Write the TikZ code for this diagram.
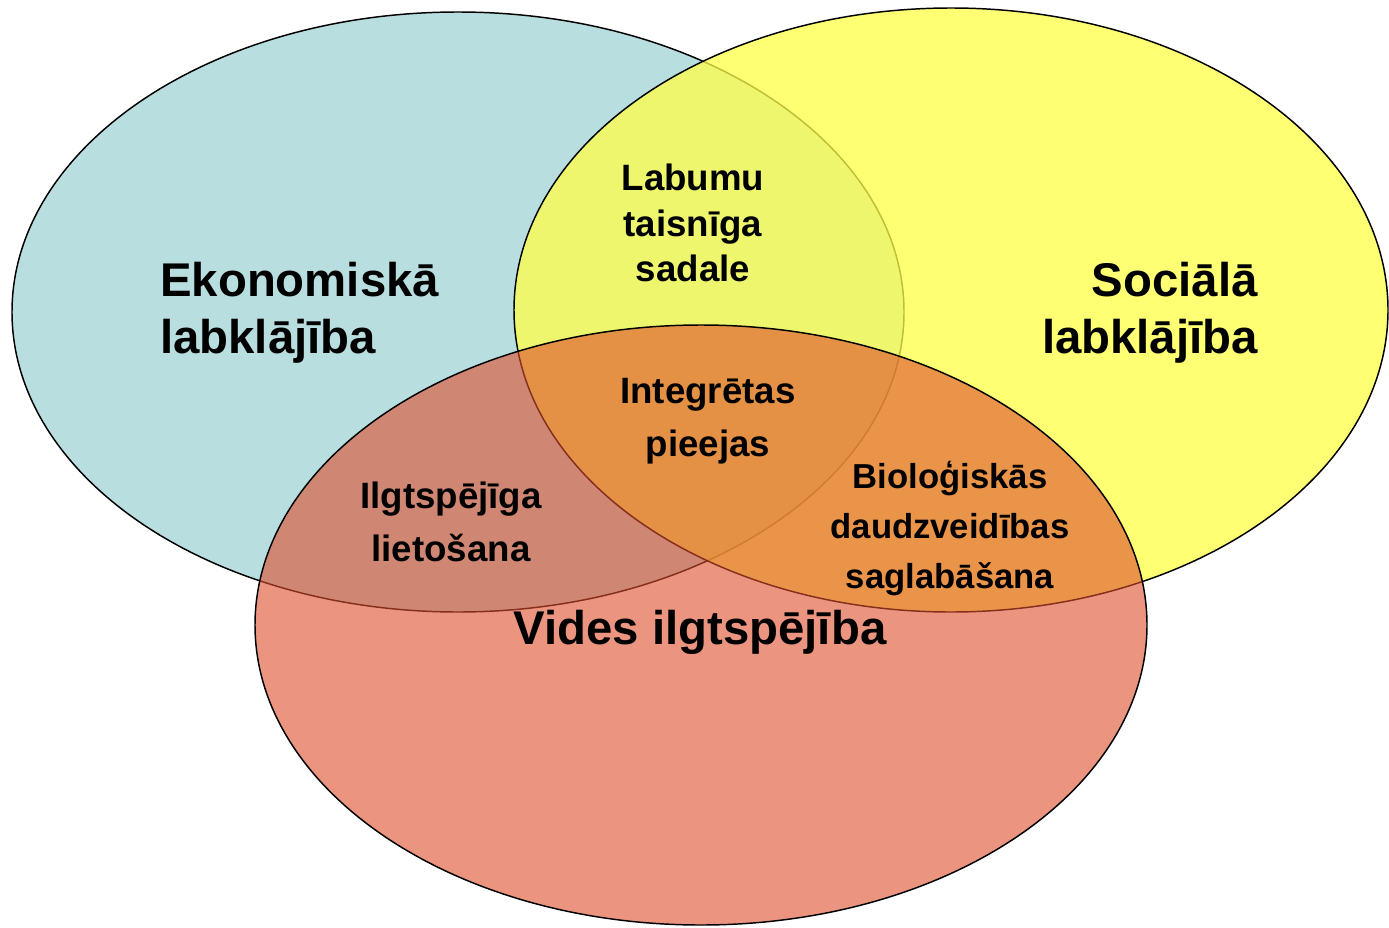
\documentclass[tikz,border=0pt]{standalone}
\usepackage{fontspec}
\setmainfont{Liberation Sans}
\usepackage{xcolor}
\usepackage{tikz}
\usetikzlibrary{positioning}

\definecolor{ekoblue}{RGB}{185,222,224}
\definecolor{socyellow}{RGB}{255,255,70}
\definecolor{videred}{RGB}{222,78,45}

\tikzset{
  bigtext/.style={font=\fontsize{35.5}{43}\selectfont\bfseries},
  midtext/.style={font=\fontsize{27.5}{40}\selectfont\bfseries, align=center},
  smalltext/.style={font=\fontsize{26}{37.5}\selectfont\bfseries, align=center}
}

\begin{document}
\begin{tikzpicture}[x=0.75pt,y=0.75pt,yscale=-1,xscale=1]
\useasboundingbox (0,0) rectangle (1389,928);

%Ellipse [Ekonomiska]
\draw [line width=1.1pt, fill=ekoblue] (458,312) ellipse (446 and 300);
%Ellipse [Sociala]
\draw [line width=1.1pt, fill=socyellow, fill opacity=0.75] (951,310) ellipse (437 and 302);
%Ellipse [Vides]
\draw [line width=1.1pt, fill=videred, fill opacity=0.6] (701,625) ellipse (446 and 300);

% Text Node
\draw (160,313) node [bigtext, anchor=west, align=left, inner sep=0pt] (eko) {Ekonomiskā\\labklājība};
\draw (1258,313) node [bigtext, anchor=east, align=right, inner sep=0pt] (soc) {Sociālā\\labklājība};
\draw (700,632) node [bigtext] (vid) {Vides ilgtspējība};
\draw (693,223) node [midtext, font=\fontsize{27.5}{34}\selectfont\bfseries] (lab) {Labumu\\taisnīga\\sadale};
\draw (708,421) node [midtext] (int) {Integrētas\\pieejas};
\draw (451,522) node [midtext] (ilg) {Ilgtspējīga\\lietošana};
\draw (950,529) node [smalltext] (bio) {Bioloģiskās\\daudzveidības\\saglabāšana};
\end{tikzpicture}
\end{document}
